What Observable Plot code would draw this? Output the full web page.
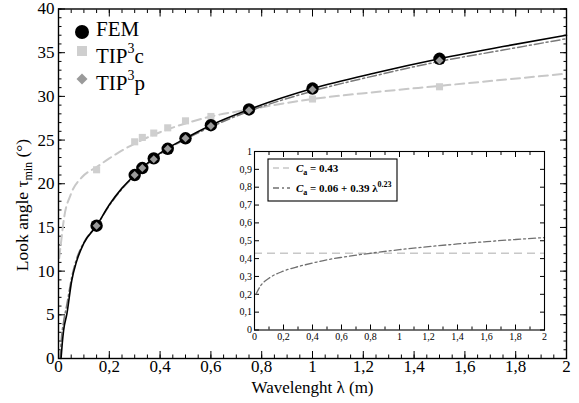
<!DOCTYPE html>
<html><head><meta charset="utf-8">
<script src="https://cdn.jsdelivr.net/npm/d3@7"></script>
<script src="https://cdn.jsdelivr.net/npm/@observablehq/plot@0.6"></script>
<style>
body{margin:0;background:#fff;}
#wrap{position:relative;width:579px;height:403px;font-family:"Liberation Serif","Times New Roman",serif;}
#wrap svg{position:absolute;}
#wrap svg text{font-family:"Liberation Serif","Times New Roman",serif;}
</style></head><body><div id="wrap"></div>
<script>
// ---- main chart: measured points ----
const pointLambda = [0.15, 0.3, 0.33, 0.375, 0.43, 0.5, 0.6, 0.75, 1.0, 1.5];
const femTau   = [15.2, 21.0, 21.8, 22.9, 24.0, 25.2, 26.7, 28.5, 30.9, 34.3];
const tip3cTau = [21.6, 24.8, 25.3, 25.8, 26.4, 27.2, 27.7, 28.5, 29.7, 31.1];
const tip3pTau = [15.2, 21.0, 21.8, 22.8, 24.0, 25.2, 26.6, 28.4, 30.8, 34.1];

// ---- main chart: curves ----
const femCurveLambda = [0.01, 0.015, 0.02, 0.033, 0.052, 0.07, 0.1, 0.15, 0.2, 0.25, 0.3, 0.4, 0.5, 0.6, 0.75, 1.0, 1.25, 1.5, 1.75, 2.0];
const femCurveTau    = [0, 1.8, 3.2, 5.1, 8.9, 11.0, 13.2, 15.2, 17.6, 19.5, 21.0, 23.5, 25.2, 26.7, 28.5, 30.9, 32.7, 34.3, 35.7, 37.0];
const tip3pCurveLambda = [0.006, 0.012, 0.02, 0.033, 0.052, 0.07, 0.1, 0.15, 0.2, 0.25, 0.3, 0.4, 0.5, 0.6, 0.75, 1.0, 1.25, 1.5, 1.75, 2.0];
const tip3pCurveTau    = [0, 2.5, 4.2, 6.2, 9.3, 11.3, 13.3, 15.2, 17.5, 19.4, 20.9, 23.4, 25.1, 26.5, 28.3, 30.6, 32.4, 34.0, 35.3, 36.6];
const tip3cCurveLambda = [0.003, 0.01, 0.022, 0.048, 0.094, 0.15, 0.2, 0.3, 0.4, 0.5, 0.6, 0.75, 1.0, 1.25, 1.5, 1.75, 2.0];
const tip3cCurveTau    = [11.5, 13.3, 16.1, 18.75, 20.8, 21.9, 22.9, 24.6, 25.9, 26.9, 27.7, 28.5, 29.7, 30.5, 31.2, 31.9, 32.6];

// ---- inset ----
const caConst = [0.43];
const insetLambda = [0.01, 0.04, 0.1, 0.2, 0.3, 0.4, 0.5, 0.6, 0.8, 1.0, 1.2, 1.4, 1.6, 1.8, 2.0];
const insetCa     = [0.20, 0.245, 0.29, 0.33, 0.355, 0.375, 0.393, 0.407, 0.43, 0.45, 0.467, 0.482, 0.495, 0.507, 0.518];

// ---- ticks ----
const xTickValues = [0, 0.2, 0.4, 0.6, 0.8, 1, 1.2, 1.4, 1.6, 1.8, 2];
const xTickLabels = ["0", "0,2", "0,4", "0,6", "0,8", "1", "1,2", "1,4", "1,6", "1,8", "2"];
const yTickValues = [0, 5, 10, 15, 20, 25, 30, 35, 40];
const yTickLabels = ["0", "5", "10", "15", "20", "25", "30", "35", "40"];
const insetYTickValues = [0, 0.1, 0.2, 0.3, 0.4, 0.5, 0.6, 0.7, 0.8, 0.9, 1];
const insetYTickLabels = ["0", "0,1", "0,2", "0,3", "0,4", "0,5", "0,6", "0,7", "0,8", "0,9", "1"];
const xMinor = d3.range(0, 41).map(i => i * 0.05);
const yMinor = d3.range(0, 41);
const insetXMinor = d3.range(0, 21).map(i => i * 0.1);

const lab = (vals, labels) => d => labels[vals.findIndex(v => Math.abs(v - d) < 1e-9)] ?? "";
const none = () => "";

const pts = pointLambda.map((l, i) => ({l, fem: femTau[i], c: tip3cTau[i], p: tip3pTau[i]}));
const femCurve = femCurveLambda.map((l, i) => ({l, t: femCurveTau[i]}));
const pCurve = tip3pCurveLambda.map((l, i) => ({l, t: tip3pCurveTau[i]}));
const cCurve = tip3cCurveLambda.map((l, i) => ({l, t: tip3cCurveTau[i]}));
const insetCurve = insetLambda.map((l, i) => ({l, c: insetCa[i]}));

const FONT = '"Liberation Serif", "Times New Roman", serif';

const main = Plot.plot({
  width: 579, height: 403,
  marginLeft: 58, marginRight: 13, marginTop: 8.5, marginBottom: 45,
  x: {domain: [0, 2]},
  y: {domain: [0, 40]},
  style: {fontFamily: FONT, fontSize: "17px", background: "white", color: "black", overflow: "visible"},
  marks: [
    Plot.axisX(xMinor, {anchor: "bottom", tickSize: -3.5, tickFormat: none, label: null}),
    Plot.axisX(xMinor, {anchor: "top", tickSize: -3.5, tickFormat: none, label: null}),
    Plot.axisX(xTickValues, {anchor: "bottom", tickSize: -7, tickPadding: 8.5, tickFormat: lab(xTickValues, xTickLabels), label: null, fontSize: 17, fontFamily: FONT}),
    Plot.axisX(xTickValues, {anchor: "top", tickSize: -7, tickFormat: none, label: null}),
    Plot.axisY(yMinor, {anchor: "left", tickSize: -3.5, tickFormat: none, label: null}),
    Plot.axisY(yMinor, {anchor: "right", tickSize: -3.5, tickFormat: none, label: null}),
    Plot.axisY(yTickValues, {anchor: "left", tickSize: -7, tickPadding: 11, tickFormat: lab(yTickValues, yTickLabels), label: null, fontSize: 17, fontFamily: FONT}),
    Plot.axisY(yTickValues, {anchor: "right", tickSize: -7, tickFormat: none, label: null}),
    Plot.line(cCurve, {x: "l", y: "t", stroke: "#c8c8c8", strokeWidth: 2, strokeDasharray: "9,5", curve: "monotone-x"}),
    Plot.line(pCurve, {x: "l", y: "t", stroke: "#7a7a7a", strokeWidth: 1.5, strokeDasharray: "9,3,2,3", curve: "monotone-x"}),
    Plot.line(femCurve, {x: "l", y: "t", stroke: "black", strokeWidth: 1.6, curve: "monotone-x"}),
    Plot.dot(pts, {x: "l", y: "c", symbol: "square", r: 4, fill: "#cfcfcf", stroke: "none"}),
    Plot.dot(pts, {x: "l", y: "fem", r: 6.2, fill: "black", stroke: "none"}),
    Plot.dot(pts, {x: "l", y: "p", symbol: "diamond2", r: 3.6, fill: "#9a9a9a", stroke: "none"}),
    Plot.text(["Wavelenght λ (m)"], {text: d => d, frameAnchor: "bottom", dy: 34, fontSize: 17, fontFamily: FONT}),
    Plot.frame({stroke: "black", strokeWidth: 1.4})
  ]
});

const wrap = document.getElementById("wrap");
main.style.left = "0px"; main.style.top = "0px";
wrap.appendChild(main);

// y-axis label with subscript
const ms = d3.select(main);
const yl = ms.append("text")
  .attr("transform", "translate(28,205) rotate(-90)")
  .attr("text-anchor", "middle")
  .attr("font-family", FONT).attr("font-size", 17.5).attr("fill", "black");
yl.append("tspan").text("Look angle τ");
yl.append("tspan").attr("font-size", 12).attr("dy", 4).text("min");
yl.append("tspan").attr("dy", -4).text(" (°)");

// main legend
const lg = ms.append("g").attr("font-family", FONT).attr("fill", "black").attr("text-anchor", "start");
lg.append("circle").attr("cx", 82).attr("cy", 32).attr("r", 7).attr("fill", "black");
lg.append("rect").attr("x", 77).attr("y", 46).attr("width", 10).attr("height", 10).attr("fill", "#cfcfcf");
lg.append("path").attr("d", "M82,73.5 L87.5,79 L82,84.5 L76.5,79 Z").attr("fill", "#9a9a9a");
lg.append("text").attr("x", 96).attr("y", 36).attr("font-size", 21).attr("text-anchor", "start").text("FEM");
const t2 = lg.append("text").attr("x", 96).attr("y", 62.5).attr("font-size", 21).attr("text-anchor", "start");
t2.append("tspan").text("TIP");
t2.append("tspan").attr("font-size", 14).attr("dy", -10).text("3");
t2.append("tspan").attr("dy", 10).text("c");
const t3 = lg.append("text").attr("x", 96).attr("y", 89.5).attr("font-size", 21).attr("text-anchor", "start");
t3.append("tspan").text("TIP");
t3.append("tspan").attr("font-size", 14).attr("dy", -10).text("3");
t3.append("tspan").attr("dy", 10).text("p");

// ---- inset plot ----
const inset = Plot.plot({
  width: 318, height: 200,
  marginLeft: 22, marginRight: 6, marginTop: 5, marginBottom: 16.5,
  x: {domain: [0, 2]},
  y: {domain: [0, 1]},
  style: {fontFamily: FONT, fontSize: "10px", background: "transparent", color: "black", overflow: "visible"},
  marks: [
    Plot.frame({fill: "white", stroke: "none"}),
    Plot.axisX(insetXMinor, {anchor: "bottom", tickSize: -3, tickFormat: none, label: null}),
    Plot.axisX(insetXMinor, {anchor: "top", tickSize: -3, tickFormat: none, label: null}),
    Plot.axisX(xTickValues, {anchor: "bottom", tickSize: -5, tickPadding: 8, tickFormat: lab(xTickValues, xTickLabels), label: null, fontSize: 10, fontFamily: FONT}),
    Plot.axisX(xTickValues, {anchor: "top", tickSize: -5, tickFormat: none, label: null}),
    Plot.axisY(insetYTickValues, {anchor: "left", tickSize: -5, tickPadding: 7.5, tickFormat: lab(insetYTickValues, insetYTickLabels), label: null, fontSize: 10, fontFamily: FONT}),
    Plot.axisY(insetYTickValues, {anchor: "right", tickSize: -5, tickFormat: none, label: null}),
    Plot.ruleY(caConst, {stroke: "#c8c8c8", strokeWidth: 1.5, strokeDasharray: "8,5"}),
    Plot.line(insetCurve, {x: "l", y: "c", stroke: "#707070", strokeWidth: 1.3, strokeDasharray: "7,3,2,3", curve: "monotone-x"}),
    Plot.frame({stroke: "black", strokeWidth: 1.1})
  ]
});
inset.style.left = "232px"; inset.style.top = "146px";
wrap.appendChild(inset);

// inset legend
const is = d3.select(inset);
const il = is.append("g").attr("font-family", FONT).attr("fill", "black").attr("text-anchor", "start");
il.append("rect").attr("x", 36).attr("y", 13).attr("width", 129).attr("height", 42)
  .attr("fill", "white").attr("stroke", "black").attr("stroke-width", 1.1);
il.append("line").attr("x1", 41).attr("x2", 58).attr("y1", 22).attr("y2", 22)
  .attr("stroke", "#c8c8c8").attr("stroke-width", 1.5).attr("stroke-dasharray", "6,4");
il.append("line").attr("x1", 41).attr("x2", 58).attr("y1", 42).attr("y2", 42)
  .attr("stroke", "#707070").attr("stroke-width", 1.3).attr("stroke-dasharray", "6,3,2,3");
const l1 = il.append("text").attr("x", 64).attr("y", 26).attr("font-size", 11).attr("font-weight", "bold").attr("text-anchor", "start");
l1.append("tspan").attr("font-style", "italic").text("C");
l1.append("tspan").attr("font-size", 8).attr("dy", 3).text("a");
l1.append("tspan").attr("dy", -3).text(" = 0.43");
const l2 = il.append("text").attr("x", 64).attr("y", 46).attr("font-size", 11).attr("font-weight", "bold").attr("text-anchor", "start");
l2.append("tspan").attr("font-style", "italic").text("C");
l2.append("tspan").attr("font-size", 8).attr("dy", 3).text("a");
l2.append("tspan").attr("dy", -3).text(" = 0.06 + 0.39 λ");
l2.append("tspan").attr("font-size", 8).attr("dy", -5).text("0.23");
</script>
</body></html>
